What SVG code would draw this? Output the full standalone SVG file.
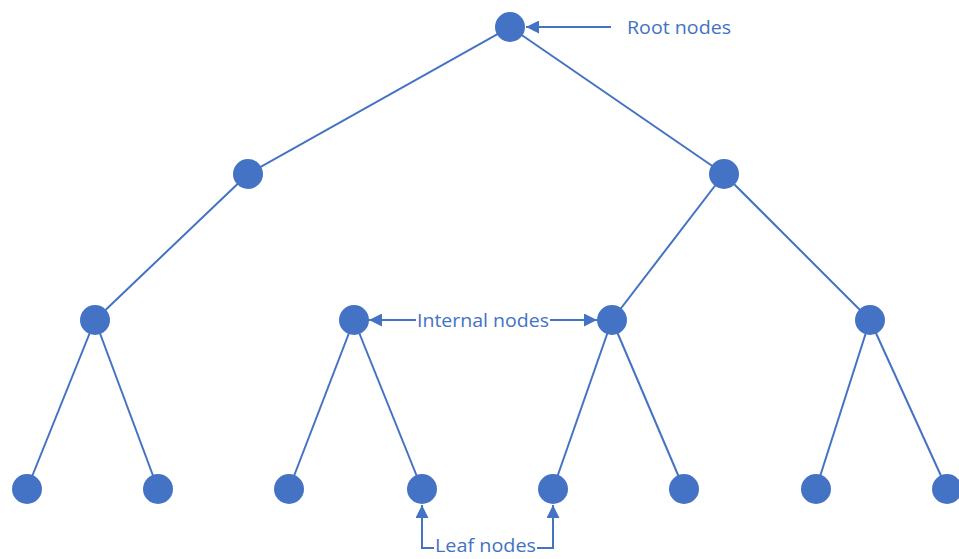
<svg xmlns="http://www.w3.org/2000/svg" width="959" height="559" viewBox="0 0 959 559">
<style>
.e{stroke:#4472C4;stroke-width:2;fill:none}
.n{fill:#4472C4}
.t{font-family:"Open Sans","Liberation Sans",sans-serif;font-size:19px;fill:#4472C4}
</style>
<defs>
<marker id="ah" viewBox="0 0 10 10" refX="10" refY="5" markerWidth="7" markerHeight="6.5" orient="auto" markerUnits="strokeWidth">
<path d="M0,0 L10,5 L0,10 z" fill="#4472C4"/>
</marker>
</defs>
<rect width="959" height="559" fill="#fff"/>
<g id="connectors">
<line class="e" x1="510" y1="27" x2="248" y2="174"/>
<line class="e" x1="510" y1="27" x2="724" y2="174"/>
<line class="e" x1="248" y1="174" x2="95" y2="320"/>
<line class="e" x1="724" y1="174" x2="612" y2="320"/>
<line class="e" x1="724" y1="174" x2="870" y2="320"/>
<line class="e" x1="95" y1="320" x2="27" y2="489"/>
<line class="e" x1="95" y1="320" x2="158" y2="489"/>
<line class="e" x1="354" y1="320" x2="289" y2="489"/>
<line class="e" x1="354" y1="320" x2="422" y2="489"/>
<line class="e" x1="612" y1="320" x2="553" y2="489"/>
<line class="e" x1="612" y1="320" x2="684" y2="489"/>
<line class="e" x1="870" y1="320" x2="816" y2="489"/>
<line class="e" x1="870" y1="320" x2="947" y2="489"/>
<line class="e" x1="611" y1="27" x2="526" y2="27" marker-end="url(#ah)"/>
<line class="e" x1="416" y1="320" x2="369" y2="320" marker-end="url(#ah)"/>
<line class="e" x1="550" y1="320" x2="597" y2="320" marker-end="url(#ah)"/>
<polyline class="e" points="434,548 422,548 422,505" marker-end="url(#ah)"/>
<polyline class="e" points="537,548 553,548 553,505" marker-end="url(#ah)"/>
</g>
<g id="root"><circle class="n" cx="510" cy="27" r="15"/></g>
<g id="n1l"><circle class="n" cx="248" cy="174" r="15"/></g>
<g id="n1r"><circle class="n" cx="724" cy="174" r="15"/></g>
<g id="n2a"><circle class="n" cx="95" cy="320" r="15"/></g>
<g id="n2b"><circle class="n" cx="354" cy="320" r="15"/></g>
<g id="n2c"><circle class="n" cx="612" cy="320" r="15"/></g>
<g id="n2d"><circle class="n" cx="870" cy="320" r="15"/></g>
<g id="l1"><circle class="n" cx="27" cy="489" r="15"/></g>
<g id="l2"><circle class="n" cx="158" cy="489" r="15"/></g>
<g id="l3"><circle class="n" cx="289" cy="489" r="15"/></g>
<g id="l4"><circle class="n" cx="422" cy="489" r="15"/></g>
<g id="l5"><circle class="n" cx="553" cy="489" r="15"/></g>
<g id="l6"><circle class="n" cx="684" cy="489" r="15"/></g>
<g id="l7"><circle class="n" cx="816" cy="489" r="15"/></g>
<g id="l8"><circle class="n" cx="947" cy="489" r="15"/></g>
<g id="labels">
<text class="t" x="627" y="34" textLength="104" lengthAdjust="spacingAndGlyphs">Root nodes</text>
<text class="t" x="417" y="327" textLength="132" lengthAdjust="spacingAndGlyphs">Internal nodes</text>
<text class="t" x="435" y="552" font-size="18" textLength="101" lengthAdjust="spacingAndGlyphs">Leaf nodes</text>
</g>
</svg>
